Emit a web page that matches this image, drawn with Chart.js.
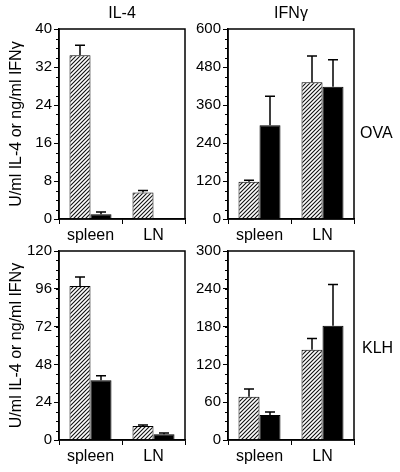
<!DOCTYPE html>
<html>
<head>
<meta charset="utf-8">
<script src="https://cdn.jsdelivr.net/npm/chart.js@4.4.1/dist/chart.umd.min.js"></script>
<style>
    body { margin: 0; background: #fff; }
    #wrap { position: relative; width: 400px; height: 472px; background: #fff; overflow: hidden; }
    #wrap canvas { position: absolute; }
    .lbl { position: absolute; font-family: "Liberation Sans", Arial, sans-serif; color: #000; line-height: 19px; white-space: nowrap; }
</style>
</head>
<body>
<div id="wrap">
    <canvas id="c1" width="200" height="250" style="left:0;top:0"></canvas>
    <canvas id="c2" width="215" height="250" style="left:185px;top:0"></canvas>
    <canvas id="c3" width="200" height="236" style="left:0;top:236px"></canvas>
    <canvas id="c4" width="215" height="236" style="left:185px;top:236px"></canvas>
    <div class="lbl" style="left:72px;top:3px;width:100px;text-align:center;font-size:16px">IL-4</div>
    <div class="lbl" style="left:241px;top:3px;width:100px;text-align:center;font-size:16px">IFNγ</div>
    <div class="lbl" style="left:360px;top:123px;font-size:16px">OVA</div>
    <div class="lbl" style="left:362px;top:338px;font-size:16px">KLH</div>
</div>
<script>
// Data
const categories = ['spleen', 'LN'];
const yTitle = 'U/ml IL-4 or ng/ml IFNγ';

// OVA, IL-4
const ovaIl4Ticks = [0, 8, 16, 24, 32, 40];
const ovaIl4Hatched = [34.5, 5.6];
const ovaIl4HatchedErr = [2.1, 0.4];
const ovaIl4Solid = [1.0, 0];
const ovaIl4SolidErr = [0.5, 0];

// OVA, IFNg
const ovaIfnTicks = [0, 120, 240, 360, 480, 600];
const ovaIfnHatched = [118, 432];
const ovaIfnHatchedErr = [4, 83];
const ovaIfnSolid = [296, 418];
const ovaIfnSolidErr = [92, 85];

// KLH, IL-4
const klhIl4Ticks = [0, 24, 48, 72, 96, 120];
const klhIl4Hatched = [97.8, 8.9];
const klhIl4HatchedErr = [5.7, 0.6];
const klhIl4Solid = [38, 3.6];
const klhIl4SolidErr = [2.8, 0.8];

// KLH, IFNg
const klhIfnTicks = [0, 60, 120, 180, 240, 300];
const klhIfnHatched = [68.8, 143.3];
const klhIfnHatchedErr = [12, 18];
const klhIfnSolid = [39.6, 181.3];
const klhIfnSolidErr = [4.8, 65.4];

const FONT = '"Liberation Sans", Arial, sans-serif';

// Diagonal hatch fill
function makeHatch() {
    const c = document.createElement('canvas');
    c.width = 4;
    c.height = 4;
    const g = c.getContext('2d');
    g.fillStyle = '#fff';
    g.fillRect(0, 0, 4, 4);
    g.strokeStyle = '#111';
    g.lineWidth = 1.1;
    g.beginPath();
    g.moveTo(-1, 5); g.lineTo(5, -1);
    g.moveTo(-1, 1); g.lineTo(1, -1);
    g.moveTo(3, 5); g.lineTo(5, 3);
    g.stroke();
    return g.createPattern(c, 'repeat');
}
const hatch = makeHatch();

// Box round the plot area
const framePlugin = {
    id: 'frame',
    afterDraw(chart) {
        const a = chart.chartArea;
        const ctx = chart.ctx;
        ctx.save();
        ctx.strokeStyle = '#000';
        ctx.lineWidth = 1.5;
        ctx.strokeRect(a.left, a.top, a.right - a.left, a.bottom - a.top);
        ctx.restore();
    }
};

// Short ticks between the labelled ones
const minorTickPlugin = {
    id: 'minorTicks',
    afterDraw(chart, args, opts) {
        const y = chart.scales.y;
        const left = chart.chartArea.left;
        const ctx = chart.ctx;
        ctx.save();
        ctx.strokeStyle = '#000';
        ctx.lineWidth = 1;
        ctx.beginPath();
        for (let v = y.min; v <= y.max + 1e-9; v += opts.step) {
            const py = Math.round(y.getPixelForValue(v)) + 0.5;
            ctx.moveTo(left - 3, py);
            ctx.lineTo(left, py);
        }
        ctx.stroke();
        ctx.restore();
    }
};

// One-sided error bars
const errorBarPlugin = {
    id: 'errorBars',
    afterDatasetsDraw(chart, args, opts) {
        const ctx = chart.ctx;
        const y = chart.scales.y;
        ctx.save();
        ctx.strokeStyle = '#000';
        ctx.lineWidth = 1.5;
        chart.data.datasets.forEach((ds, di) => {
            const meta = chart.getDatasetMeta(di);
            const errs = opts.errors[di];
            meta.data.forEach((bar, i) => {
                if (!errs[i]) return;
                const top = y.getPixelForValue(ds.data[i] + errs[i]);
                ctx.beginPath();
                ctx.moveTo(bar.x, bar.y);
                ctx.lineTo(bar.x, top);
                ctx.moveTo(bar.x - 5, top);
                ctx.lineTo(bar.x + 5, top);
                ctx.stroke();
            });
        });
        ctx.restore();
    }
};

function makePanel(id, cfg) {
    const ticks = cfg.ticks;
    return new Chart(document.getElementById(id), {
        type: 'bar',
        data: {
            labels: categories,
            datasets: [
                { data: cfg.hatched, backgroundColor: hatch, borderColor: '#000', borderWidth: 1 },
                { data: cfg.solid, backgroundColor: '#000', borderColor: '#000', borderWidth: 1 }
            ]
        },
        options: {
            responsive: false,
            animation: false,
            layout: { padding: cfg.padding },
            datasets: { bar: { categoryPercentage: 2 / 3, barPercentage: 1 } },
            plugins: {
                legend: { display: false },
                tooltip: { enabled: false },
                errorBars: { errors: [cfg.hatchedErr, cfg.solidErr] },
                minorTicks: { step: (ticks[1] - ticks[0]) / 4 }
            },
            scales: {
                x: {
                    grid: { drawOnChartArea: false, tickLength: 5, color: '#000', lineWidth: 1 },
                    border: { color: '#000', width: 1.5 },
                    ticks: { color: '#000', font: { family: FONT, size: 16 }, padding: 2 },
                    // tall enough that the labels are not clipped
                    afterFit: s => { s.height = cfg.xHeight; }
                },
                y: {
                    min: ticks[0],
                    max: ticks[ticks.length - 1],
                    afterBuildTicks: s => { s.ticks = ticks.map(v => ({ value: v })); },
                    grid: { drawOnChartArea: false, tickLength: 5, color: '#000', lineWidth: 1 },
                    border: { color: '#000', width: 1.5 },
                    ticks: { color: '#000', font: { family: FONT, size: 15 }, padding: 2 },
                    title: {
                        display: cfg.showTitle,
                        text: yTitle,
                        color: '#000',
                        font: { family: FONT, size: 16 },
                        padding: { top: 7, bottom: 0 }
                    },
                    afterFit: s => { s.width = cfg.axisWidth; }
                }
            }
        },
        plugins: [framePlugin, minorTickPlugin, errorBarPlugin]
    });
}

makePanel('c1', {
    ticks: ovaIl4Ticks, hatched: ovaIl4Hatched, hatchedErr: ovaIl4HatchedErr,
    solid: ovaIl4Solid, solidErr: ovaIl4SolidErr, showTitle: true, axisWidth: 59, xHeight: 31,
    padding: { left: 0, top: 29, right: 15, bottom: 0 }
});
makePanel('c2', {
    ticks: ovaIfnTicks, hatched: ovaIfnHatched, hatchedErr: ovaIfnHatchedErr,
    solid: ovaIfnSolid, solidErr: ovaIfnSolidErr, showTitle: false, axisWidth: 43, xHeight: 31,
    padding: { left: 0, top: 29, right: 46, bottom: 0 }
});
makePanel('c3', {
    ticks: klhIl4Ticks, hatched: klhIl4Hatched, hatchedErr: klhIl4HatchedErr,
    solid: klhIl4Solid, solidErr: klhIl4SolidErr, showTitle: true, axisWidth: 59, xHeight: 32,
    padding: { left: 0, top: 15, right: 15, bottom: 0 }
});
makePanel('c4', {
    ticks: klhIfnTicks, hatched: klhIfnHatched, hatchedErr: klhIfnHatchedErr,
    solid: klhIfnSolid, solidErr: klhIfnSolidErr, showTitle: false, axisWidth: 43, xHeight: 32,
    padding: { left: 0, top: 15, right: 46, bottom: 0 }
});
</script>
</body>
</html>
